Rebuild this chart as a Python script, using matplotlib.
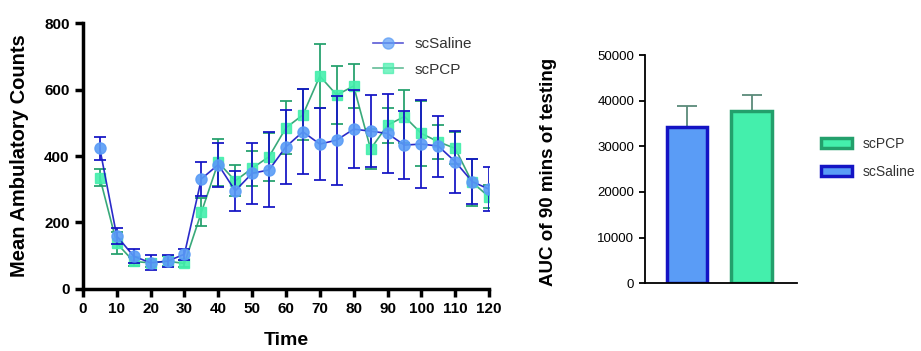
import numpy as np
import matplotlib.pyplot as plt
from matplotlib.patches import Patch
from matplotlib.lines import Line2D

plt.rcParams['font.family'] = ['Liberation Sans', 'DejaVu Sans']

# time course data (mean and error)
time = [5, 10, 15, 20, 25, 30, 35, 40, 45, 50, 55, 60,
        65, 70, 75, 80, 85, 90, 95, 100, 105, 110, 115, 120]
saline_mean = [423, 159, 98, 78, 83, 104, 331, 374, 295, 348, 358, 428,
               473, 436, 448, 481, 475, 468, 433, 436, 430, 383, 323, 300]
saline_err = [35, 25, 22, 23, 18, 16, 51, 66, 60, 92, 113, 112,
              128, 108, 134, 118, 108, 120, 103, 133, 92, 93, 69, 67]
pcp_mean = [335, 137, 82, 78, 83, 76, 230, 381, 325, 363, 398, 485,
            524, 641, 584, 611, 421, 493, 519, 468, 443, 423, 321, 277]
pcp_err = [25, 33, 14, 13, 15, 11, 42, 71, 47, 53, 72, 80,
           77, 97, 88, 67, 61, 53, 81, 98, 52, 48, 71, 35]

# AUC data
groups = ['scSaline', 'scPCP']
auc_mean = [34200, 37800]
auc_err = [4600, 3400]

sal_face = '#5A9CF6'
sal_edge = '#1414C4'
pcp_face = '#44EFAC'
pcp_edge = '#23A06C'

fig = plt.figure(figsize=(9.21, 3.51), dpi=100)

# ---- left: time course ----
ax = fig.add_axes([0.090, 0.1775, 0.441, 0.756])
ax.errorbar(time, saline_mean, yerr=saline_err, color=sal_edge, lw=1.2,
            elinewidth=1.4, capsize=4, capthick=1.4, marker='o', ms=8,
            mfc=sal_face, mec=sal_face, alpha=0.9, label='scSaline', zorder=3)
ax.errorbar(time, pcp_mean, yerr=pcp_err, color=pcp_edge, lw=1.2,
            elinewidth=1.4, capsize=4, capthick=1.4, marker='s', ms=7.5,
            mfc=pcp_face, mec=pcp_face, alpha=0.9, label='scPCP', zorder=2)
ax.set_xlim(0, 120)
ax.set_ylim(0, 800)
ax.set_xticks(np.arange(0, 121, 10))
ax.set_yticks([0, 200, 400, 600, 800])
for s in ['top', 'right']:
    ax.spines[s].set_visible(False)
for s in ['left', 'bottom']:
    ax.spines[s].set_linewidth(2.5)
ax.tick_params(width=2.5, length=6, labelsize=11)
for lab in ax.get_xticklabels() + ax.get_yticklabels():
    lab.set_fontweight('bold')
ax.set_xlabel('Time', fontsize=14, fontweight='bold')
ax.set_ylabel('Mean Ambulatory Counts', fontsize=14.5, fontweight='bold')
ax.xaxis.set_label_coords(0.5, -0.163)
ax.yaxis.set_label_coords(-0.133, 0.5)

h1 = Line2D([], [], color=sal_edge, lw=1.2, marker='o', ms=8,
            mfc=sal_face, mec=sal_face, alpha=0.7)
h2 = Line2D([], [], color=pcp_edge, lw=1.2, marker='s', ms=7.5,
            mfc=pcp_face, mec=pcp_face, alpha=0.7)
ax.legend([h1, h2], ['scSaline', 'scPCP'], loc='upper left',
          bbox_to_anchor=(0.68, 1.0), frameon=False, fontsize=11,
          handlelength=2.0, handletextpad=0.7, labelspacing=0.75,
          labelcolor='#333333')

# ---- right: AUC bars ----
ax2 = fig.add_axes([0.700, 0.193, 0.165, 0.650])
xpos = [0, 1]
ax2.bar(xpos, auc_mean, width=0.63, color=[sal_face, pcp_face],
        edgecolor=[sal_edge, pcp_edge], linewidth=2.5, zorder=2)
ax2.errorbar(xpos, auc_mean, yerr=[[0, 0], auc_err], fmt='none',
             ecolor='#5a8a7a', elinewidth=1.3, capsize=7, capthick=1.3, zorder=1)
ax2.set_xlim(-0.66, 1.70)
ax2.set_ylim(0, 50000)
ax2.set_yticks(np.arange(0, 50001, 10000))
ax2.set_xticks([])
for s in ['top', 'right']:
    ax2.spines[s].set_visible(False)
for s in ['left', 'bottom']:
    ax2.spines[s].set_linewidth(1.3)
ax2.tick_params(width=1.3, length=4, labelsize=9.5)
ax2.set_ylabel('AUC of 90 mins of testing', fontsize=13.5, fontweight='bold')
ax2.yaxis.set_label_coords(-0.58, 0.49)

p1 = Patch(facecolor=pcp_face, edgecolor=pcp_edge, linewidth=2.5)
p2 = Patch(facecolor=sal_face, edgecolor=sal_edge, linewidth=2.5)
ax2.legend([p1, p2], ['scPCP', 'scSaline'], loc='center left',
           bbox_to_anchor=(1.08, 0.55), frameon=False, fontsize=10,
           handlelength=2.2, handleheight=0.8, handletextpad=0.8,
           labelspacing=1.0, labelcolor='#333333')

fig.savefig('out.png', dpi=100)
